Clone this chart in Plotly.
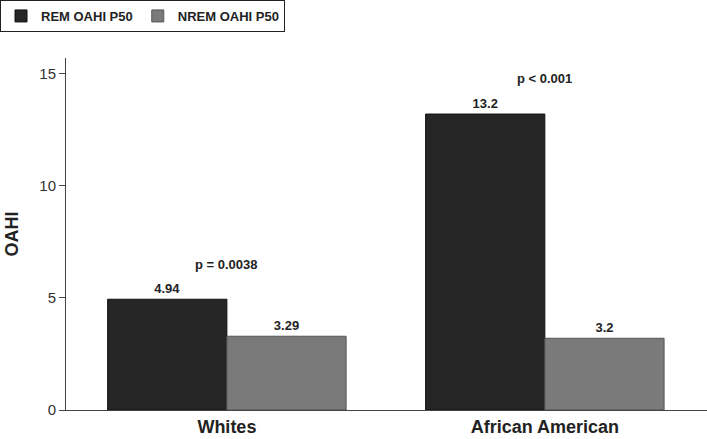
import plotly.graph_objects as go

groups = ["Whites", "African American"]
rem_values = [4.94, 13.2]
nrem_values = [3.29, 3.2]
rem_labels = ["4.94", "13.2"]
nrem_labels = ["3.29", "3.2"]
p_texts = ["p = 0.0038", "p < 0.001"]
p_heights = [6.5, 14.8]

FONT = "Liberation Sans, Arial, sans-serif"

fig = go.Figure()

fig.add_trace(
    go.Bar(
        x=groups,
        y=rem_values,
        name="REM OAHI P50",
        text=rem_labels,
        textposition="outside",
        marker=dict(color="#262626", line=dict(color="#111111", width=1)),
        textfont=dict(family=FONT, size=13, color="#222222", weight="bold"),
        cliponaxis=False,
    )
)
fig.add_trace(
    go.Bar(
        x=groups,
        y=nrem_values,
        name="NREM OAHI P50",
        text=nrem_labels,
        textposition="outside",
        marker=dict(color="#7a7a7a", line=dict(color="#555555", width=1)),
        textfont=dict(family=FONT, size=13, color="#222222", weight="bold"),
        cliponaxis=False,
    )
)

# p-value labels above each group
for g, t, h in zip(groups, p_texts, p_heights):
    fig.add_annotation(
        x=g, y=h, text=t, showarrow=False,
        font=dict(family=FONT, size=13, color="#222222", weight="bold"),
    )

fig.update_layout(
    width=707,
    height=439,
    margin=dict(l=66, r=0, t=58, b=29),
    plot_bgcolor="white",
    paper_bgcolor="white",
    barmode="group",
    bargap=0.25,
    bargroupgap=0,
    font=dict(family=FONT, color="#222222"),
    legend=dict(
        orientation="h",
        xref="container",
        yref="container",
        x=0.0,
        y=1.0,
        xanchor="left",
        yanchor="top",
        bordercolor="#222222",
        borderwidth=1,
        bgcolor="white",
        font=dict(family=FONT, size=13, color="#222222", weight="bold"),
        traceorder="normal",
    ),
    showlegend=True,
)

fig.update_xaxes(
    range=[-0.506, 1.51],
    showline=True,
    linecolor="#444444",
    linewidth=1,
    ticks="",
    tickfont=dict(family=FONT, size=18, color="#222222", weight="bold"),
)
fig.update_yaxes(
    range=[0, 15.7],
    tickvals=[0, 5, 10, 15],
    showline=True,
    linecolor="#444444",
    linewidth=1,
    ticks="outside",
    ticklen=6,
    tickcolor="#444444",
    showgrid=False,
    zeroline=False,
    tickfont=dict(family=FONT, size=15, color="#333333"),
    title=dict(text="OAHI", font=dict(family=FONT, size=18, color="#222222", weight="bold"), standoff=16),
)

fig.write_html(
    "out.html",
    config={"displayModeBar": False},
    post_script="document.body.style.margin='0';",
)
